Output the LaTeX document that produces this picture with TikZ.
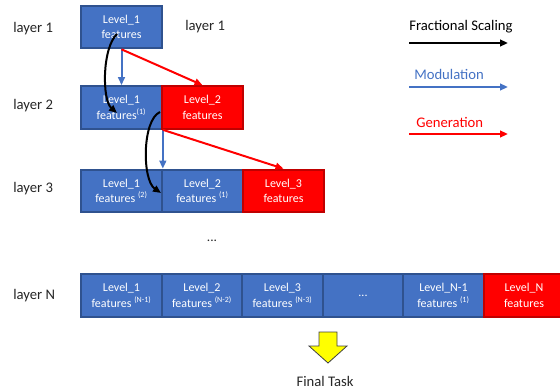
\documentclass[tikz,border=0pt]{standalone}
\usepackage{fontspec}
\setmainfont{Carlito}
\usetikzlibrary{arrows.meta}

\definecolor{boxblue}{HTML}{4472C4}
\definecolor{boxblueedge}{HTML}{2F528F}
\definecolor{boxred}{HTML}{FF0000}
\definecolor{boxrededge}{HTML}{C00000}
\definecolor{labelgray}{HTML}{262626}
\definecolor{arrowyellow}{HTML}{FFFF00}

\newcommand\lvsup[1]{\textsuperscript{#1}}

\begin{document}
\begin{tikzpicture}[x=0.75pt,y=-0.75pt,
  feat/.style={draw=boxblueedge, fill=boxblue, line width=1.5pt,
    minimum width=60.5pt, minimum height=32pt, inner sep=0pt,
    align=center, text=white, font=\fontsize{9}{11.5}\selectfont},
  gen/.style={feat, draw=boxrededge, fill=boxred},
  lbl/.style={anchor=west, text=labelgray, inner sep=0pt,
    font=\fontsize{11}{13}\selectfont},
  tip/.style={-{Triangle[length=6pt,width=5pt]}},
  scaling/.style={tip, draw=black, line width=1.5pt},
  modul/.style={tip, draw=boxblue, line width=1.5pt},
  generate/.style={tip, draw=boxred, line width=1.5pt},
]
\useasboundingbox (0,0) rectangle (560,392);

% layer labels
\node[lbl] (t1) at (13,29) {layer 1};
\node[lbl] (t2) at (13,106) {layer 2};
\node[lbl] (t3) at (13,189) {layer 3};
\node[lbl] (tN) at (13,296) {layer N};
\node[lbl] (t1b) at (185,27) {layer 1};

% layer 1
\node[feat] (l1a) at (121.5,27) {Level\_1\\features};

% layer 2
\node[feat] (l2a) at (121.5,107.5) {Level\_1\\features\lvsup{(1)}};
\node[gen]  (l2b) at (202.5,107.5) {Level\_2\\features};

% layer 3
\node[feat] (l3a) at (121.5,191) {Level\_1\\features \lvsup{(2)}};
\node[feat] (l3b) at (202.5,191) {Level\_2\\features \lvsup{(1)}};
\node[gen]  (l3c) at (283.5,191) {Level\_3\\features};

\node[text=labelgray, font=\fontsize{10}{12}\selectfont] (dots) at (212,241) {...};

% layer N
\node[feat] (na) at (121.5,295.5) {Level\_1\\features \lvsup{(N-1)}};
\node[feat] (nb) at (202,295.5) {Level\_2\\features \lvsup{(N-2)}};
\node[feat] (nc) at (282.5,295.5) {Level\_3\\features \lvsup{(N-3)}};
\node[feat] (nd) at (363,295.5) {...};
\node[feat] (ne) at (443.5,295.5) {Level\_N-1\\features \lvsup{(1)}};
\node[gen]  (nf) at (524,295.5) {Level\_N\\features};

% modulation
\draw[modul] (l1a.south) -- (l2a.north);
\draw[modul] (l2a.south east) -- (l3a.north east);

% generation
\draw[generate] (l1a.south) -- (l2b.north);
\draw[generate] (l2a.south east) -- (l3c.north);

% fractional scaling
\coordinate (s1) at (117,34);
\coordinate (e1) at (117,113);
\coordinate (s2) at (160,112);
\coordinate (e2) at (161,193);
\draw[scaling] (s1) .. controls (102,48) and (102,100) .. (e1);
\draw[scaling] (s2) .. controls (142,120) and (142,180) .. (e2);

% legend
\node[lbl, text=black] (kf) at (409,27) {Fractional Scaling};
\coordinate (kf1) at (409,43);
\coordinate (kf2) at (508,43);
\draw[scaling] (kf1) -- (kf2);
\node[lbl, text=boxblue] (km) at (414,74) {Modulation};
\coordinate (km1) at (409,87);
\coordinate (km2) at (508,87);
\draw[modul] (km1) -- (km2);
\node[lbl, text=boxred] (kg) at (416,122) {Generation};
\coordinate (kg1) at (409,134);
\coordinate (kg2) at (508,134);
\draw[generate] (kg1) -- (kg2);

% final output
\draw[fill=arrowyellow, draw=black!75, line width=0.6pt]
  (319,332) -- (337,332) -- (337,346) -- (347,346) -- (328,363)
  -- (309,346) -- (319,346) -- cycle;
\node[text=labelgray, font=\fontsize{11}{13}\selectfont] (task) at (325,381) {Final Task};
\end{tikzpicture}
\end{document}
